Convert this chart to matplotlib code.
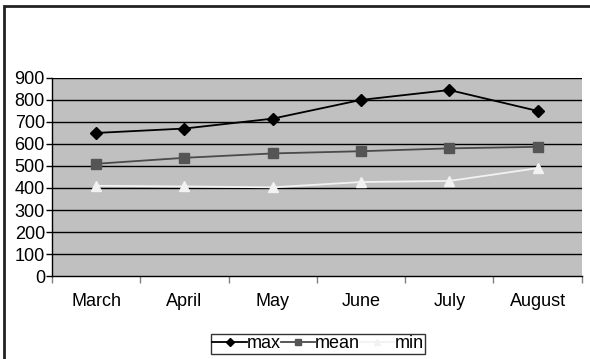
import matplotlib.pyplot as plt
import numpy as np
from matplotlib.patches import Rectangle

plt.rcParams["font.family"] = ["Liberation Sans", "DejaVu Sans"]

months = ["March", "April", "May", "June", "July", "August"]
max_vals = [650, 670, 715, 800, 845, 750]
mean_vals = [510, 537, 557, 567, 580, 587]
min_vals = [410, 407, 403, 427, 432, 490]

x = np.arange(len(months))

fig = plt.figure(figsize=(5.9, 3.59), dpi=100)
ax = fig.add_axes([0.088, 0.231, 0.898, 0.552])
ax.set_facecolor("#c0c0c0")

# horizontal gridlines every 100
for v in range(100, 1000, 100):
    ax.axhline(v, color="black", linewidth=1.0, zorder=1)

ax.plot(x, max_vals, color="black", linewidth=1.3, marker="D", markersize=6,
        markerfacecolor="black", markeredgecolor="black", label="max", zorder=3)
ax.plot(x, mean_vals, color="#4a4a4a", linewidth=1.3, marker="s", markersize=7,
        markerfacecolor="#555555", markeredgecolor="#555555", label="mean", zorder=3)
ax.plot(x, min_vals, color="#f2f2f2", linewidth=1.3, marker="^", markersize=7,
        markerfacecolor="#f2f2f2", markeredgecolor="#f2f2f2", label="min", zorder=3)

ax.set_xlim(-0.5, len(months) - 0.5)
ax.set_ylim(0, 900)
ax.set_yticks(range(0, 1000, 100))
ax.set_xticks(x)
ax.set_xticklabels(months)
ax.set_xticks(np.arange(-0.5, len(months), 1.0), minor=True)
ax.tick_params(axis="x", which="major", length=0, pad=12, labelsize=13)
ax.tick_params(axis="x", which="minor", length=5, color="#808080", width=1)
ax.tick_params(axis="y", length=4, width=1, pad=1, labelsize=13)

for side in ["top", "right"]:
    ax.spines[side].set_visible(False)
ax.spines["left"].set_linewidth(1.0)
ax.spines["bottom"].set_linewidth(1.0)

leg = fig.legend(loc="center", bbox_to_anchor=(318 / 590, 1 - 344 / 359),
                 ncol=3, frameon=True, fancybox=False, fontsize=13,
                 handlelength=1.9, handletextpad=0.0, columnspacing=0.0,
                 borderpad=0.1, borderaxespad=0.0, markerscale=0.7)
leg.get_frame().set_edgecolor("black")
leg.get_frame().set_linewidth(1.0)

# outer chart border (left and top edges visible)
fig.add_artist(Rectangle((4 / 590, -0.5), 2.0, 1.5 - 6 / 359, transform=fig.transFigure,
                         fill=False, edgecolor="#222222", linewidth=2))

fig.savefig("out.png", dpi=100)
